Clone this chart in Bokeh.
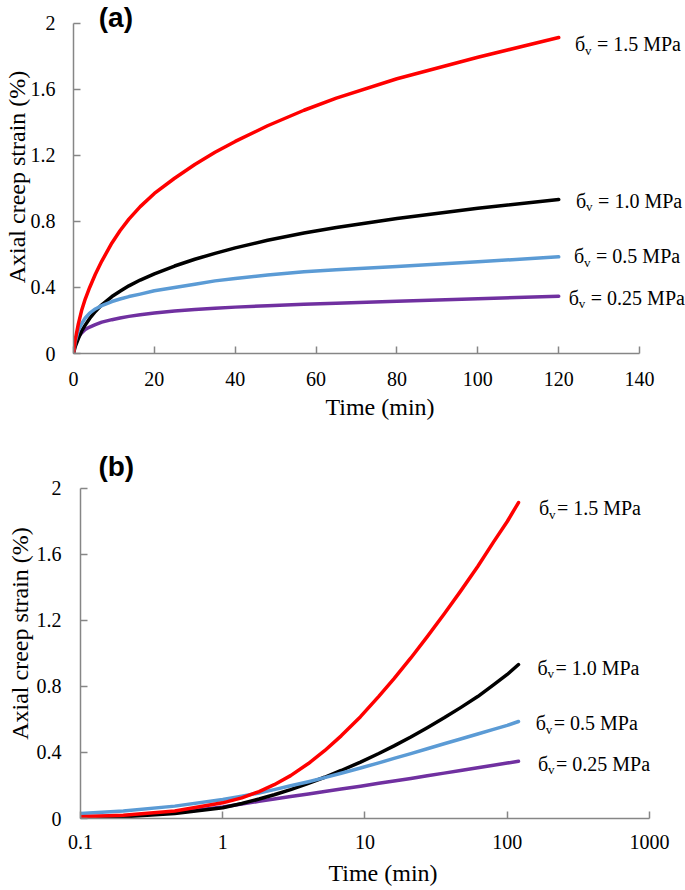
from bokeh.plotting import figure
from bokeh.models import Range1d, FixedTicker, CustomJSTickFormatter, Label
from bokeh.embed import file_html
from bokeh.resources import INLINE

# ---------------- data ----------------
# panel (a): linear time axis
t_a = [0, 0.4, 1.2, 2, 2.9, 4, 5.4, 7, 9.5, 11.5, 13.7, 16.5, 20, 25, 30, 35, 40, 48, 57, 65, 80, 100, 120]
red_a = [0, 0.08, 0.18, 0.26, 0.33, 0.40, 0.48, 0.56, 0.67, 0.744, 0.814, 0.89, 0.97, 1.062, 1.145, 1.219,
         1.285, 1.38, 1.474, 1.547, 1.665, 1.795, 1.915]
black_a = [0, 0.04, 0.09, 0.135, 0.172, 0.212, 0.255, 0.295, 0.345, 0.377, 0.41, 0.445, 0.483, 0.53, 0.571,
           0.607, 0.64, 0.686, 0.73, 0.763, 0.818, 0.88, 0.933]
blue_a = [0, 0.07, 0.14, 0.18, 0.215, 0.245, 0.27, 0.29, 0.315, 0.33, 0.345, 0.36, 0.38, 0.40, 0.42, 0.44,
          0.455, 0.475, 0.495, 0.507, 0.527, 0.556, 0.586]
purple_a = [0, 0.06, 0.10, 0.125, 0.145, 0.16, 0.175, 0.19, 0.205, 0.215, 0.225, 0.235, 0.245, 0.257, 0.266,
            0.274, 0.281, 0.29, 0.298, 0.305, 0.316, 0.332, 0.347]

# panel (b): logarithmic time axis
t_b = [0.1, 0.2, 0.46, 1, 1.36, 1.8, 2.3, 3, 4, 5.2, 6.8, 9.3, 12.5, 16, 21, 27.4, 36, 47, 62, 80, 100, 120]
red_b = [0.01, 0.02, 0.045, 0.095, 0.125, 0.163, 0.205, 0.26, 0.333, 0.411, 0.501, 0.617, 0.74, 0.848, 0.973,
         1.102, 1.239, 1.378, 1.527, 1.675, 1.80, 1.915]
black_b = [0.005, 0.01, 0.03, 0.065, 0.091, 0.118, 0.144, 0.175, 0.213, 0.25, 0.291, 0.342, 0.394, 0.44, 0.494,
           0.55, 0.61, 0.672, 0.739, 0.81, 0.873, 0.933]
blue_b = [0.03, 0.045, 0.075, 0.115, 0.135, 0.155, 0.175, 0.198, 0.223, 0.248, 0.274, 0.306, 0.337, 0.364,
          0.393, 0.423, 0.453, 0.482, 0.512, 0.54, 0.564, 0.588]
purple_b = [0.01, 0.015, 0.035, 0.07, 0.088, 0.104, 0.118, 0.133, 0.149, 0.164, 0.179, 0.196, 0.213, 0.227,
            0.243, 0.259, 0.275, 0.291, 0.308, 0.323, 0.336, 0.347]

stress_labels = ["= 1.5 MPa", "= 1.0 MPa", "= 0.5 MPa", "= 0.25 MPa"]

x_ticks_a = [0, 20, 40, 60, 80, 100, 120, 140]
x_ticks_b = [0.1, 1, 10, 100, 1000]
y_ticks = [0, 0.4, 0.8, 1.2, 1.6, 2.0]

# ---------------- styling ----------------
colors = ["#FF0000", "#000000", "#5B9BD5", "#7030A0"]
AXIS_COL = "#868686"
SERIF = "Liberation Serif"

# label anchor positions (annotation placement, data units)
lab_a_x = [124.0, 124.3, 123.8, 122.5]
lab_a_y = [1.873, 0.927, 0.588, 0.339]
lab_b_x = [167, 163, 158.5, 164.5]
lab_b_y = [1.879, 0.915, 0.576, 0.333]


def style_axes(p, xb, yb):
    for ax in (p.xaxis[0], p.yaxis[0]):
        ax.axis_line_color = AXIS_COL
        ax.axis_line_width = 1.5
        ax.major_tick_line_color = AXIS_COL
        ax.major_tick_line_width = 1.5
        ax.major_tick_in = 7
        ax.major_tick_out = 0
        ax.minor_tick_line_color = None
        ax.major_label_text_font = SERIF
        ax.major_label_text_font_size = "20px"
        ax.major_label_text_color = "black"
        ax.axis_label_text_font = SERIF
        ax.axis_label_text_font_size = "24px"
        ax.axis_label_text_font_style = "normal"
        ax.axis_label_text_color = "black"
    p.xaxis.bounds = xb
    p.yaxis.bounds = yb
    p.xgrid.visible = False
    p.ygrid.visible = False
    p.outline_line_color = None
    p.yaxis.ticker = FixedTicker(ticks=y_ticks)
    p.yaxis.formatter = CustomJSTickFormatter(code="return Number(tick.toFixed(1)).toString();")


def add_stress_labels(p, xs, ys, texts, main_off):
    for x, y, t in zip(xs, ys, texts):
        p.add_layout(Label(x=x, y=y, text="б", text_font=SERIF, text_font_size="20px",
                           text_baseline="middle", text_align="left", text_color="black"))
        p.add_layout(Label(x=x, y=y, text="v", text_font=SERIF, text_font_size="13px",
                           text_baseline="middle", text_align="left", text_color="black",
                           x_offset=10, y_offset=-6))
        p.add_layout(Label(x=x, y=y, text=t, text_font=SERIF, text_font_size="20px",
                           text_baseline="middle", text_align="left", text_color="black",
                           x_offset=main_off))


# ---------------- panel (a) ----------------
p1 = figure(frame_width=613, frame_height=353, output_backend="svg", toolbar_location=None,
            x_range=Range1d(0, 151.6), y_range=Range1d(0, 2.139),
            min_border_left=72, min_border_right=0, min_border_top=0, min_border_bottom=72)
p1.xaxis.axis_label = "Time (min)"
p1.yaxis.axis_label = "Axial creep strain (%)"
style_axes(p1, (0, 140), (0, 2))
p1.xaxis.ticker = FixedTicker(ticks=x_ticks_a)
p1.xaxis.major_label_standoff = 18
p1.xaxis.axis_label_standoff = 5
p1.yaxis.major_label_standoff = 18
p1.yaxis.axis_label_standoff = -2

series_a = [(purple_a, colors[3]), (black_a, colors[1]), (blue_a, colors[2]), (red_a, colors[0])]
for ys, c in series_a:
    p1.line(t_a, ys, line_color=c, line_width=3.5, line_cap="round", line_join="round")

add_stress_labels(p1, lab_a_x, lab_a_y, stress_labels, 22)
p1.add_layout(Label(x=6.25, y=2.039, text="(a)", text_font="Liberation Sans",
                    text_font_style="bold", text_font_size="28px", text_baseline="middle",
                    text_color="black"))

# ---------------- panel (b) ----------------
p2 = figure(frame_width=605, frame_height=370, output_backend="svg", toolbar_location=None,
            x_axis_type="log", x_range=Range1d(0.1, 1791), y_range=Range1d(0, 2.2424),
            min_border_left=80, min_border_right=0, min_border_top=23, min_border_bottom=70)
p2.xaxis.axis_label = "Time (min)"
p2.yaxis.axis_label = "Axial creep strain (%)"
style_axes(p2, (0.1, 1000), (0, 2))
p2.xaxis.ticker = FixedTicker(ticks=x_ticks_b)
p2.xaxis.formatter = CustomJSTickFormatter(code="return Number(tick.toPrecision(3)).toString();")
p2.xaxis.major_label_standoff = 16
p2.xaxis.axis_label_standoff = 8
p2.yaxis.major_label_standoff = 19
p2.yaxis.axis_label_standoff = 1

series_b = [(purple_b, colors[3]), (black_b, colors[1]), (blue_b, colors[2]), (red_b, colors[0])]
for ys, c in series_b:
    p2.line(t_b, ys, line_color=c, line_width=3.5, line_cap="round", line_join="round")

add_stress_labels(p2, lab_b_x, lab_b_y, stress_labels, 18)
p2.add_layout(Label(x=0.1336, y=2.133, text="(b)", text_font="Liberation Sans",
                    text_font_style="bold", text_font_size="28px", text_baseline="middle",
                    text_color="black"))

open("out.html", "w").write(file_html([p1, p2], INLINE))
